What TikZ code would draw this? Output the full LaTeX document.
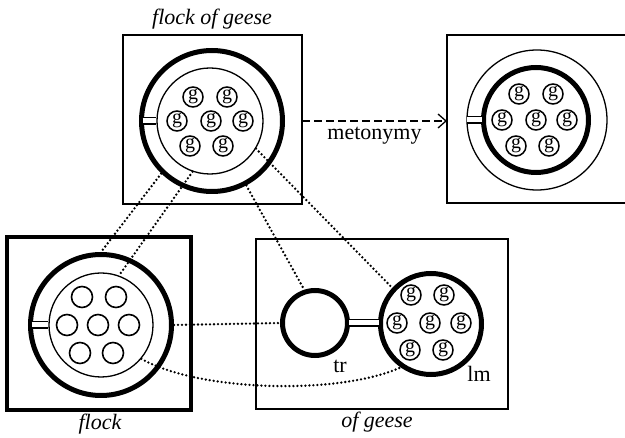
\documentclass[tikz,border=0pt]{standalone}
\usepackage{fontspec}
\setmainfont{Liberation Serif}
\usetikzlibrary{arrows.meta}
\begin{document}
\begin{tikzpicture}[x=1pt,y=-1pt,
  frame/.style={draw, line width=1.5pt, inner sep=0, outer sep=0},
  thickc/.style={circle, draw, line width=5pt, inner sep=0},
  thinc/.style={circle, draw, line width=1.3pt, inner sep=0},
  gc/.style={circle, draw, line width=1.5pt, inner sep=0, minimum size=20pt, font=\fontsize{20}{20}\selectfont},
  ec/.style={circle, draw, line width=1.6pt, inner sep=0, minimum size=21pt},
  link/.style={line width=2.6pt, line cap=round, dash pattern=on 0pt off 4pt},
  dbl/.style={double, double distance=5pt, line width=1.3pt},
  lbl/.style={font=\fontsize{22}{22}\selectfont\itshape, inner sep=0},
  txt/.style={font=\fontsize{22}{22}\selectfont, inner sep=0}]
\useasboundingbox (0,0) rectangle (625,438);
% boxes
\node[frame, minimum width=179pt, minimum height=169pt] (boxA) at (212.5,119.5) {};
\node[minimum width=190pt, minimum height=168pt, inner sep=0, outer sep=0] (boxB) at (542,119) {};
\draw[line width=1.5pt] (boxB.north east) -- (boxB.north west) -- (boxB.south west) -- (boxB.south east);
\node[frame, line width=4pt, minimum width=184pt, minimum height=173pt] (boxC) at (99,323.5) {};
\node[frame, minimum width=252pt, minimum height=170pt] (boxD) at (382,324) {};
% labels
\node[lbl] (tA) at (212,19) {flock of geese};
\node[lbl] (tC) at (100,424) {flock};
\node[lbl] (tD) at (377,422) {of geese};
% A
\node[thickc, minimum size=141pt] (Aout) at (212,121) {};
\node[thinc, minimum size=106pt] (Ain) at (210,121) {};
\draw[dbl] ([xshift=3.5pt]Aout.west) -- (Ain.west);
\foreach \x/\y [count=\i] in {193/97,227/97,177/121,211/121,243/121,190/146,223/146}
  \node[gc] (ag\i) at (\x,\y) {g};
% B
\node[thinc, minimum size=140pt] (Bout) at (537,120) {};
\node[thickc, minimum size=105pt] (Bin) at (536,120) {};
\draw[dbl] ([xshift=1pt]Bout.west) -- ([xshift=1pt]Bin.west);
\foreach \x/\y [count=\i] in {519/94,553/94,502/120,536/120,567/120,516/146,549/146}
  \node[gc] (bg\i) at (\x,\y) {g};
% C
\node[thickc, minimum size=141pt] (Cout) at (101,325) {};
\node[thinc, minimum size=104pt] (Cin) at (101,325) {};
\draw[dbl] ([xshift=3.5pt]Cout.west) -- (Cin.west);
\foreach \x/\y [count=\i] in {82/297,116/297,67/325,98/325,129/325,80/353,113/353}
  \node[ec] (ce\i) at (\x,\y) {};
% D
\node[thickc, minimum size=65pt] (tr) at (315,323) {};
\node[thickc, minimum size=101pt] (lm) at (431,324) {};
\draw[dbl] ([xshift=-1pt]tr.east) -- ([xshift=1pt]lm.west |- tr.east);
\foreach \x/\y [count=\i] in {411/295,444/295,397/323,430/323,461/323,410/350,443/350}
  \node[gc] (dg\i) at (\x,\y) {g};
\node[txt] (ttr) at (340,366) {tr};
\node[txt] (tlm) at (479,374) {lm};
% metonymy
\draw[line width=1.3pt, dash pattern=on 8pt off 4pt, -{Straight Barb[length=8pt, width=14pt, line width=1.3pt]}]
  (boxA.east |- Aout.center) -- node[txt, below=5pt] (tmet) {metonymy} (boxB.west |- Aout.center);
% correspondence links
\draw[link] (Aout.-134) -- (Cout.90);
\draw[link] (Ain.-109) -- (Cin.70);
\draw[link] (Aout.-62) -- (tr.108);
\draw[link] (Ain.-31) -- (lm.137);
\draw[link] (Cout.east) -- (tr.west);
\draw[link] (Cin.-40) .. controls (200,392) and (340,395) .. (lm.-125);
\end{tikzpicture}
\end{document}
